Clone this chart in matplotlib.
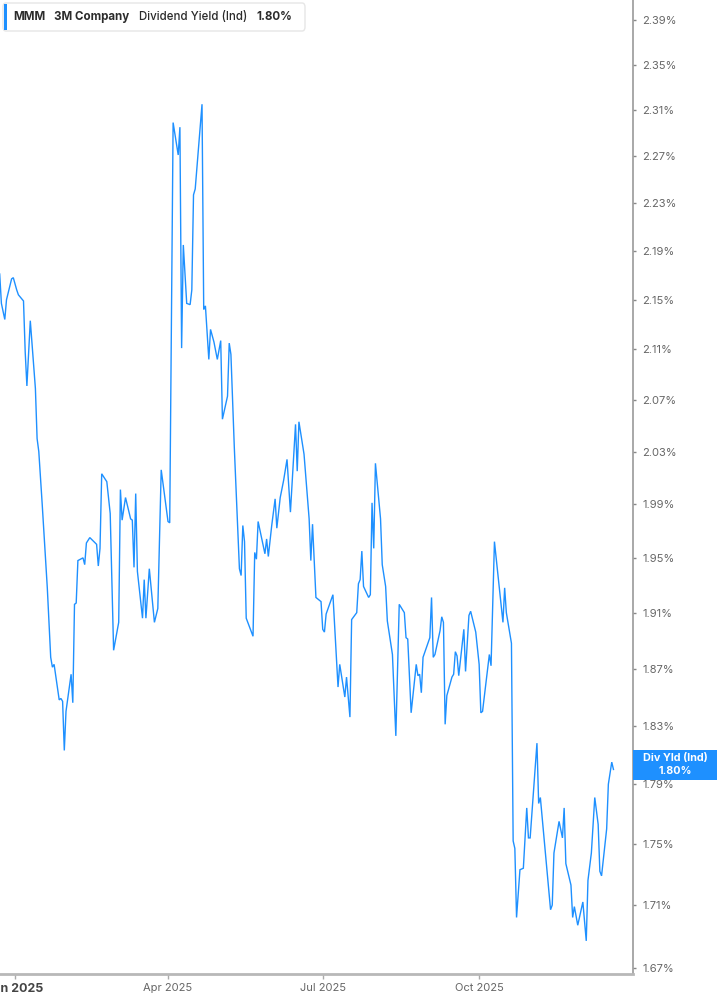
import matplotlib
matplotlib.use('Agg')
import matplotlib.pyplot as plt
import matplotlib.ticker as ticker
import matplotlib.patches as patches
import pandas as pd

# data (dividend yield, %)
dates = [
    '2024-12-23', '2024-12-24', '2024-12-26', '2024-12-27', '2024-12-30', '2024-12-31',
    '2025-01-02', '2025-01-03', '2025-01-06', '2025-01-07', '2025-01-08', '2025-01-10',
    '2025-01-13', '2025-01-14', '2025-01-15', '2025-01-17', '2025-01-20', '2025-01-22',
    '2025-01-23', '2025-01-24', '2025-01-27', '2025-01-28', '2025-01-29', '2025-01-30',
    '2025-01-31', '2025-02-03', '2025-02-04', '2025-02-05', '2025-02-06', '2025-02-07',
    '2025-02-10', '2025-02-11', '2025-02-12', '2025-02-14', '2025-02-18', '2025-02-19',
    '2025-02-20', '2025-02-21', '2025-02-24', '2025-02-26', '2025-02-28', '2025-03-03',
    '2025-03-04', '2025-03-05', '2025-03-07', '2025-03-10', '2025-03-11', '2025-03-12',
    '2025-03-13', '2025-03-14', '2025-03-17', '2025-03-18', '2025-03-19', '2025-03-21',
    '2025-03-24', '2025-03-26', '2025-03-28', '2025-04-01', '2025-04-02', '2025-04-04',
    '2025-04-07', '2025-04-08', '2025-04-09', '2025-04-10', '2025-04-12', '2025-04-14',
    '2025-04-15', '2025-04-16', '2025-04-17', '2025-04-21', '2025-04-22', '2025-04-23',
    '2025-04-25', '2025-04-26', '2025-04-28', '2025-04-30', '2025-05-02', '2025-05-03',
    '2025-05-06', '2025-05-07', '2025-05-08', '2025-05-10', '2025-05-13', '2025-05-14',
    '2025-05-15', '2025-05-16', '2025-05-17', '2025-05-21', '2025-05-22', '2025-05-23',
    '2025-05-24', '2025-05-28', '2025-05-29', '2025-05-30', '2025-06-01', '2025-06-03',
    '2025-06-04', '2025-06-06', '2025-06-08', '2025-06-10', '2025-06-12', '2025-06-15',
    '2025-06-16', '2025-06-17', '2025-06-20', '2025-06-23', '2025-06-24', '2025-06-25',
    '2025-06-27', '2025-06-30', '2025-07-01', '2025-07-02', '2025-07-03', '2025-07-07',
    '2025-07-10', '2025-07-11', '2025-07-14', '2025-07-15', '2025-07-17', '2025-07-18',
    '2025-07-21', '2025-07-22', '2025-07-23', '2025-07-24', '2025-07-25', '2025-07-28',
    '2025-07-29', '2025-07-30', '2025-07-31', '2025-08-01', '2025-08-04', '2025-08-05',
    '2025-08-07', '2025-08-08', '2025-08-11', '2025-08-13', '2025-08-15', '2025-08-18',
    '2025-08-19', '2025-08-20', '2025-08-22', '2025-08-25', '2025-08-26', '2025-08-27',
    '2025-08-28', '2025-08-29', '2025-09-02', '2025-09-03', '2025-09-04', '2025-09-05',
    '2025-09-08', '2025-09-09', '2025-09-10', '2025-09-11', '2025-09-12', '2025-09-15',
    '2025-09-16', '2025-09-17', '2025-09-18', '2025-09-19', '2025-09-22', '2025-09-23',
    '2025-09-25', '2025-09-26', '2025-09-29', '2025-10-01', '2025-10-02', '2025-10-03',
    '2025-10-07', '2025-10-08', '2025-10-10', '2025-10-12', '2025-10-15', '2025-10-16',
    '2025-10-17', '2025-10-20', '2025-10-21', '2025-10-22', '2025-10-23', '2025-10-25',
    '2025-10-27', '2025-10-29', '2025-10-30', '2025-10-31', '2025-11-04', '2025-11-05',
    '2025-11-06', '2025-11-12', '2025-11-13', '2025-11-14', '2025-11-17', '2025-11-19',
    '2025-11-20', '2025-11-21', '2025-11-24', '2025-11-25', '2025-11-26', '2025-11-28',
    '2025-12-01', '2025-12-03', '2025-12-04', '2025-12-06', '2025-12-08', '2025-12-10',
    '2025-12-11', '2025-12-12', '2025-12-15', '2025-12-16', '2025-12-18', '2025-12-19',
]
yields = [
    2.171, 2.147, 2.134, 2.150, 2.167, 2.168,
    2.158, 2.154, 2.149, 2.108, 2.081, 2.133,
    2.079, 2.040, 2.030, 1.990, 1.928, 1.878,
    1.871, 1.873, 1.848, 1.849, 1.847, 1.813,
    1.840, 1.866, 1.846, 1.916, 1.917, 1.948,
    1.950, 1.945, 1.961, 1.965, 1.960, 1.944,
    1.957, 2.013, 2.007, 1.983, 1.883, 1.903,
    2.001, 1.978, 1.995, 1.979, 1.978, 1.943,
    1.998, 1.940, 1.906, 1.934, 1.906, 1.942,
    1.903, 1.913, 2.016, 1.977, 1.976, 2.299,
    2.271, 2.295, 2.111, 2.195, 2.147, 2.146,
    2.158, 2.237, 2.242, 2.315, 2.142, 2.145,
    2.102, 2.126, 2.116, 2.102, 2.117, 2.055,
    2.073, 2.115, 2.106, 2.033, 1.942, 1.937,
    1.974, 1.962, 1.906, 1.893, 1.954, 1.949,
    1.977, 1.953, 1.964, 1.951, 1.974, 1.994,
    1.972, 1.995, 2.008, 2.024, 1.984, 2.051,
    2.015, 2.053, 2.028, 1.979, 1.948, 1.975,
    1.921, 1.918, 1.898, 1.896, 1.909, 1.923,
    1.857, 1.873, 1.850, 1.864, 1.836, 1.905,
    1.910, 1.931, 1.934, 1.955, 1.929, 1.921,
    1.923, 1.991, 1.957, 2.021, 1.979, 1.945,
    1.929, 1.904, 1.880, 1.823, 1.916, 1.910,
    1.892, 1.891, 1.839, 1.873, 1.865, 1.866,
    1.853, 1.878, 1.892, 1.921, 1.878, 1.880,
    1.897, 1.907, 1.903, 1.831, 1.851, 1.864,
    1.866, 1.882, 1.879, 1.865, 1.898, 1.868,
    1.908, 1.911, 1.896, 1.873, 1.839, 1.840,
    1.880, 1.872, 1.962, 1.938, 1.903, 1.928,
    1.910, 1.888, 1.752, 1.747, 1.702, 1.733,
    1.734, 1.774, 1.754, 1.754, 1.818, 1.777,
    1.781, 1.707, 1.710, 1.744, 1.765, 1.754,
    1.774, 1.737, 1.723, 1.702, 1.709, 1.697,
    1.712, 1.687, 1.726, 1.744, 1.781, 1.763,
    1.732, 1.729, 1.760, 1.790, 1.805, 1.800,
]

y_ticks = [1.67, 1.71, 1.75, 1.79, 1.83, 1.87, 1.91, 1.95, 1.99, 2.03, 2.07,
           2.11, 2.15, 2.19, 2.23, 2.27, 2.31, 2.35, 2.39]
x_tick_dates = ['2025-01-01', '2025-04-01', '2025-07-01', '2025-10-01']
x_tick_labels = ['Jan 2025', 'Apr 2025', 'Jul 2025', 'Oct 2025']

LINE_COLOR = '#1e90ff'
TICK_COLOR = '#666666'
FONT = ['Inter', 'DejaVu Sans']

plt.rcParams['font.family'] = FONT

W, H = 717, 1005
fig = plt.figure(figsize=(W / 100, H / 100), dpi=100)

# plot area in pixels: x 0..632.5, y 0..974.3
ax = fig.add_axes([0, 1 - 974.3 / H, 632.5 / W, 974.3 / H])

x = pd.to_datetime(dates)
ax.plot(x, yields, color=LINE_COLOR, linewidth=1.0, solid_joinstyle='miter')

# log scaled y axis on the right
ax.set_yscale('log')
ax.set_ylim(1.6658, 2.4081)
ax.yaxis.tick_right()
ax.yaxis.set_major_locator(ticker.FixedLocator(y_ticks))
ax.yaxis.set_major_formatter(ticker.FixedFormatter([f'{t:.2f}%' for t in y_ticks]))
ax.yaxis.set_minor_locator(ticker.NullLocator())
ax.tick_params(axis='y', which='major', length=2.5, width=1, color='#888888',
               labelcolor=TICK_COLOR, labelsize=8, pad=4.5)

# date x axis
jan1 = pd.Timestamp('2025-01-01')
ax.set_xlim(jan1 - pd.Timedelta(days=8.82), jan1 + pd.Timedelta(days=363.2))
ax.set_xticks(pd.to_datetime(x_tick_dates))
ax.set_xticklabels(x_tick_labels)
ax.tick_params(axis='x', length=3.5, width=1, color='#aaaaaa',
               labelcolor=TICK_COLOR, labelsize=8, pad=3)
first = ax.get_xticklabels()[0]
first.set_fontweight('bold')
first.set_color('#444444')
first.set_fontsize(9)

# spines
ax.spines['left'].set_visible(False)
ax.spines['top'].set_visible(False)
ax.spines['right'].set_color('#9a9a9a')
ax.spines['right'].set_linewidth(1.2)
ax.spines['bottom'].set_color('#b8b8b8')
ax.spines['bottom'].set_linewidth(2)


def fx(px):
    return px / W


def fy(py):
    return 1 - py / H


# legend box top-left
box = patches.FancyBboxPatch((fx(3), fy(31)), fx(302), 28 / H,
                             boxstyle='round,pad=0,rounding_size=0.004',
                             transform=fig.transFigure, facecolor='white',
                             edgecolor='#e6e6e6', linewidth=1, zorder=5)
fig.patches.append(box)
bar = patches.Rectangle((fx(3.5), fy(30)), fx(3), 26 / H, transform=fig.transFigure,
                        facecolor=LINE_COLOR, edgecolor='none', zorder=6)
fig.patches.append(bar)

legend_items = [(13, 'MMM', 'bold'), (54, '3M Company', 'bold'),
                (139, 'Dividend Yield (Ind)', 'medium'), (256, '1.80%', 'bold')]
for px, txt, weight in legend_items:
    fig.text(fx(px), fy(17), txt, fontsize=8.3, fontweight=weight, color='#2b2b2b',
             ha='left', va='center', zorder=7)

# current value tag on the y axis
tag = patches.Rectangle((fx(632.5), fy(779.5)), fx(W - 632.5), 29.5 / H,
                        transform=fig.transFigure, facecolor=LINE_COLOR,
                        edgecolor='none', zorder=6)
fig.patches.append(tag)
fig.text(fx(675), fy(758), 'Div Yld (Ind)', fontsize=7.8, fontweight='bold',
         color='white', ha='center', va='center', zorder=7)
fig.text(fx(675), fy(771), '1.80%', fontsize=7.8, fontweight='bold',
         color='white', ha='center', va='center', zorder=7)

fig.savefig('out.png', dpi=100)
